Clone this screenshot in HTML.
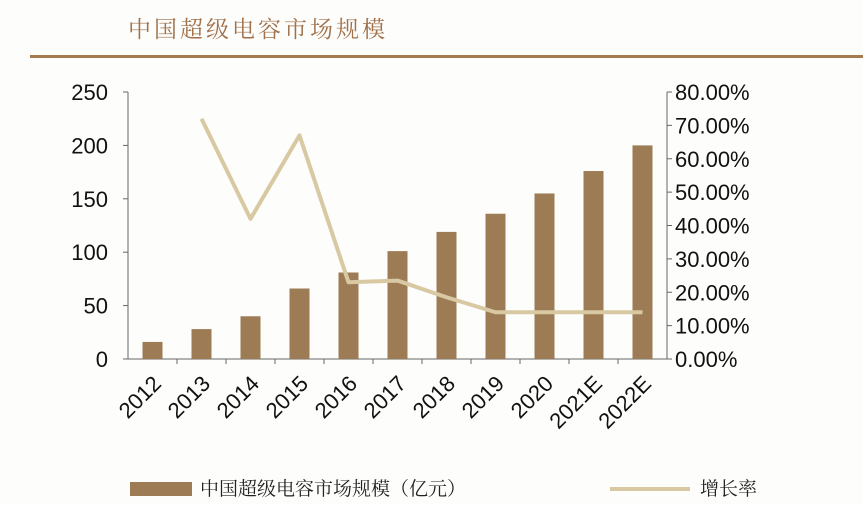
<!DOCTYPE html>
<html><head><meta charset="utf-8"><style>
body{margin:0;width:863px;height:500px;background:#fdfdfb;overflow:hidden;font-family:"Liberation Sans","Noto Sans CJK SC",sans-serif}
</style></head><body>
<svg width="863" height="500">
<text x="128" y="37" font-size="23" fill="#a0714a" font-family="'Noto Serif CJK SC',serif" letter-spacing="3">中国超级电容市场规模</text>
<rect x="30" y="55" width="833" height="3" fill="#a57b50"/>
<g id="plot"></g>
<g>
<rect x="130" y="482" width="62" height="14" fill="#9d7b55"/>
<text x="200" y="495" font-size="19" fill="#222" font-family="'Noto Serif CJK SC',serif">中国超级电容市场规模（亿元）</text>
<rect x="610" y="487" width="80" height="4" fill="#d9c9a3"/>
<text x="700" y="495" font-size="19" fill="#222" font-family="'Noto Serif CJK SC',serif">增长率</text>
</g>
</svg>
<script>
const categories=["2012","2013","2014","2015","2016","2017","2018","2019","2020","2021E","2022E"];
const marketSize=[16,28,40,66,81,101,119,136,155,176,200];
const growth=[null,72,42,67,23,23.5,18.5,14,14,14,14];
const leftTicks=[0,50,100,150,200,250];
const rightTicks=[0,10,20,30,40,50,60,70,80];
const NS="http://www.w3.org/2000/svg";
const g=document.getElementById('plot');
const X0=128,X1=667,Y0=359,Y1=92;
const bw=(X1-X0)/categories.length;
const xc=i=>X0+bw*(i+0.5);
const yL=v=>Y0-(v/250)*(Y0-Y1);
const yR=v=>Y0-(v/80)*(Y0-Y1);
function mk(t,a){const e=document.createElementNS(NS,t);for(const k in a)e.setAttribute(k,a[k]);g.appendChild(e);return e;}
let e;
e=mk('line',{x1:X0,y1:Y1,x2:X0,y2:Y0,stroke:'#666','stroke-width':1});


e=mk('line',{x1:X1,y1:Y1,x2:X1,y2:Y0,stroke:'#666','stroke-width':1});


e=mk('line',{x1:X0,y1:Y0,x2:X1,y2:Y0,stroke:'#666','stroke-width':1});


leftTicks.forEach(v=>{
 mk('line',{x1:X0-5,y1:yL(v),x2:X0,y2:yL(v),stroke:'#666'});
 e=mk('text',{x:X0-20,y:yL(v)+8,'font-size':22,'text-anchor':'end',fill:'#111'});e.textContent=v;
 
 
});
rightTicks.forEach(v=>{
 mk('line',{x1:X1,y1:yR(v),x2:X1+5,y2:yR(v),stroke:'#666'});
 e=mk('text',{x:X1+8,y:yR(v)+8,'font-size':22,fill:'#111'});e.textContent=v.toFixed(2)+'%';
 
 
});
categories.forEach((c,i)=>{
 if(i>0)mk('line',{x1:X0+bw*i,y1:Y0,x2:X0+bw*i,y2:Y0+5,stroke:'#666'});
 e=mk('rect',{x:xc(i)-10,y:yL(marketSize[i]),width:20,height:Y0-yL(marketSize[i]),fill:'#9d7b55'});
 
 
 const tx=xc(i)+10,ty=Y0+26;
 e=mk('text',{x:tx,y:ty,'font-size':22,'text-anchor':'end',fill:'#111',transform:`rotate(-45 ${tx} ${ty})`});e.textContent=c;
 
 
});
const pts=growth.map((v,i)=>v==null?null:xc(i)+','+yR(v)).filter(p=>p);
e=mk('polyline',{points:pts.join(' '),fill:'none',stroke:'#d9c9a3','stroke-width':4,'stroke-linejoin':'round'});


</script>
</body></html>
